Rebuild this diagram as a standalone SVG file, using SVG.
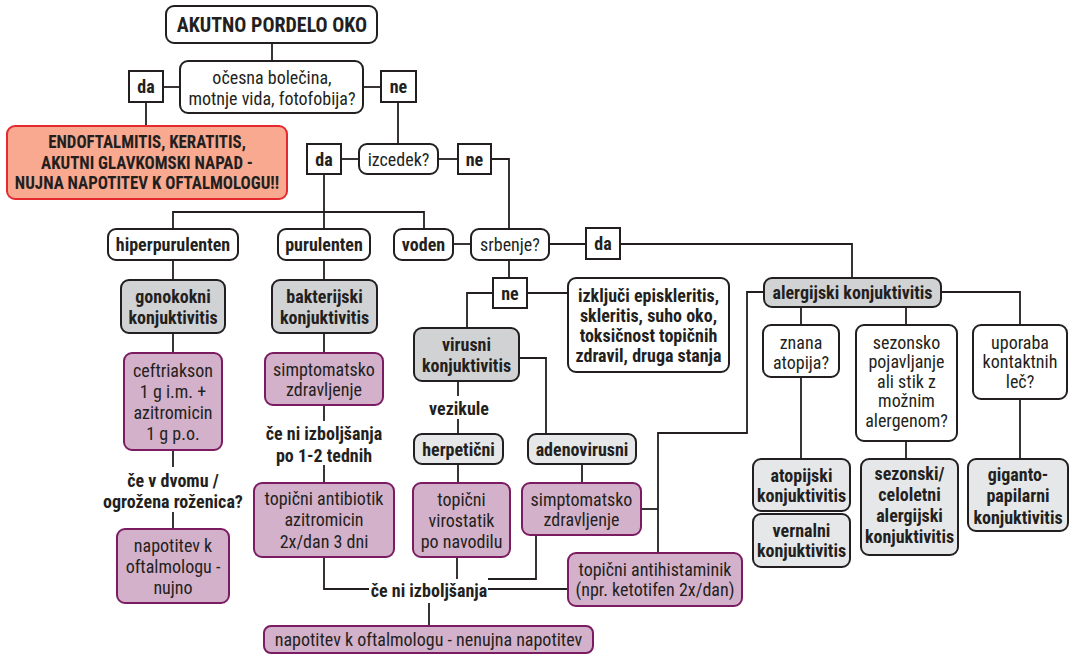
<svg xmlns="http://www.w3.org/2000/svg" width="1071" height="654" viewBox="0 0 1071 654">
<style>
text{font-family:"Liberation Sans Narrow","Roboto Condensed","DejaVu Sans Condensed","Liberation Sans",sans-serif;font-stretch:condensed;font-size:18px;fill:#231f20;text-anchor:middle}
.b{font-weight:bold}
.rt{transform-box:fill-box;transform-origin:center;transform:scaleX(0.94)}
.w{fill:#fff;stroke:#231f20;stroke-width:2}
.g{fill:#d1d2d4;stroke:#231f20;stroke-width:2}
.l{fill:#e6e7e8;stroke:#231f20;stroke-width:2}
.p{fill:#d4b1ca;stroke:#7b1c62;stroke-width:2}
.r{fill:#f8a98f;stroke:#e42a2f;stroke-width:2}
.c path{fill:none;stroke:#231f20;stroke-width:1.8}
</style>
<rect width="1071" height="654" fill="#fff"/>
<g class="c" id="connectors">
<path d="M272,43V61"/>
<path d="M163,87H180"/><path d="M363,87H381"/>
<path d="M146,102V126"/>
<path d="M398,102V144"/>
<path d="M341,159H359"/><path d="M438,159H458"/>
<path d="M491,159H509V229"/>
<path d="M324,174V212"/><path d="M173,229V212H424V229"/><path d="M324,212V229"/>
<path d="M453,244H471"/><path d="M549,244H586"/>
<path d="M509,260V278"/>
<path d="M493,293H467V328"/><path d="M527,293H568"/>
<path d="M173,260V280"/><path d="M324,260V280"/>
<path d="M173,333V353"/><path d="M324,333V353"/>
<path d="M173,450V467"/><path d="M173,512V529"/>
<path d="M324,405V421"/><path d="M324,465V483"/>
<path d="M458,381V396"/><path d="M458,419V434"/>
<path d="M519,358H546V434"/>
<path d="M458,464V483"/><path d="M582,464V483"/>
<path d="M324,557V589H369"/>
<path d="M457,557V579"/>
<path d="M488,579H536V535"/>
<path d="M488,589H568"/>
<path d="M429,603V626"/>
<path d="M620,244H852V278"/>
<path d="M764,292H747V433H658V553"/><path d="M641,509H658"/>
<path d="M941,292H1020V325"/>
<path d="M801,307V325"/><path d="M906,307V325"/>
<path d="M801,377V459"/><path d="M906,441V459"/><path d="M1020,399V459"/>
</g>
<g id="title"><rect class="w" x="166" y="6" width="211" height="37" rx="8"/><text class="b" x="272" y="32" style="font-size:20px">AKUTNO PORDELO OKO</text></g>
<g id="q1"><rect class="w" x="180" y="61" width="183" height="52" rx="8"/><text x="272" y="83.5">očesna bolečina,</text><text x="272" y="104.5">motnje vida, fotofobija?</text></g>
<g id="da1"><rect class="w" x="129" y="71" width="34" height="31"/><text class="b" x="146" y="93">da</text></g>
<g id="ne1"><rect class="w" x="381" y="71" width="35" height="31"/><text class="b" x="398.5" y="93">ne</text></g>
<g id="urgent"><rect class="r" x="7" y="126" width="280" height="73" rx="8"/><text class="b rt" x="147" y="148.5">ENDOFTALMITIS, KERATITIS,</text><text class="b rt" x="147" y="169">AKUTNI GLAVKOMSKI NAPAD -</text><text class="b rt" x="147" y="189.5">NUJNA NAPOTITEV K OFTALMOLOGU!!</text></g>
<g id="da2"><rect class="w" x="307" y="144" width="34" height="30"/><text class="b" x="324" y="165.5">da</text></g>
<g id="izcedek"><rect class="w" x="359" y="144" width="79" height="30" rx="8"/><text x="398.5" y="165.5">izcedek?</text></g>
<g id="ne2"><rect class="w" x="458" y="144" width="33" height="30"/><text class="b" x="474.5" y="165.5">ne</text></g>
<g id="hiper"><rect class="w" x="108" y="229" width="130" height="31" rx="8"/><text class="b" x="173" y="251">hiperpurulenten</text></g>
<g id="purulenten"><rect class="w" x="278" y="229" width="92" height="31" rx="8"/><text class="b" x="324" y="251">purulenten</text></g>
<g id="voden"><rect class="w" x="394" y="229" width="59" height="31" rx="8"/><text class="b" x="423.5" y="251">voden</text></g>
<g id="srbenje"><rect class="w" x="471" y="229" width="78" height="31" rx="8"/><text x="510" y="251">srbenje?</text></g>
<g id="da3"><rect class="w" x="586" y="228" width="34" height="31"/><text class="b" x="603" y="250">da</text></g>
<g id="ne3"><rect class="w" x="493" y="278" width="34" height="30"/><text class="b" x="510" y="299.5">ne</text></g>
<g id="izkljuci"><rect class="w" x="568" y="278" width="161" height="94" rx="8"/><text class="b" x="648.5" y="301.5">izključi episkleritis,</text><text class="b" x="648.5" y="321.5">skleritis, suho oko,</text><text class="b" x="648.5" y="341.5">toksičnost topičnih</text><text class="b" x="648.5" y="361.5">zdravil, druga stanja</text></g>
<g id="alergijski"><rect class="g" x="764" y="278" width="177" height="29" rx="8"/><text class="b" x="852.5" y="299">alergijski konjuktivitis</text></g>
<g id="gonokokni"><rect class="g" x="121" y="280" width="104" height="53" rx="8"/><text class="b" x="173" y="302.5">gonokokni</text><text class="b" x="173" y="323.5">konjuktivitis</text></g>
<g id="bakterijski"><rect class="g" x="272" y="280" width="105" height="53" rx="8"/><text class="b" x="324.5" y="302.5">bakterijski</text><text class="b" x="324.5" y="323.5">konjuktivitis</text></g>
<g id="virusni"><rect class="g" x="414" y="328" width="105" height="53" rx="8"/><text class="b" x="466.5" y="351">virusni</text><text class="b" x="466.5" y="371.5">konjuktivitis</text></g>
<g id="ceftriakson"><rect class="p" x="124" y="353" width="98" height="97" rx="8"/><text x="173" y="376.5">ceftriakson</text><text x="173" y="397.5">1 g i.m. +</text><text x="173" y="418.5">azitromicin</text><text x="173" y="439.5">1 g p.o.</text></g>
<g id="simpt1"><rect class="p" x="265" y="353" width="118" height="52" rx="8"/><text x="324" y="375.5">simptomatsko</text><text x="324" y="396">zdravljenje</text></g>
<g id="cenib1"><text class="b" x="324" y="439.5">če ni izboljšanja</text><text class="b" x="324" y="461.5">po 1-2 tednih</text></g>
<g id="dvomu"><text class="b" x="173" y="486.5">če v dvomu /</text><text class="b" x="173" y="507.5">ogrožena roženica?</text></g>
<g id="nujno"><rect class="p" x="117" y="529" width="112" height="74" rx="8"/><text x="173" y="551.5">napotitev k</text><text x="173" y="572.5">oftalmologu -</text><text x="173" y="593.5">nujno</text></g>
<g id="antibiotik"><rect class="p" x="254" y="483" width="140" height="74" rx="8"/><text x="324" y="504.5">topični antibiotik</text><text x="324" y="526">azitromicin</text><text x="324" y="547.5">2x/dan 3 dni</text></g>
<g id="vezikule"><text class="b" x="459" y="414.5">vezikule</text></g>
<g id="herpeticni"><rect class="l" x="414" y="434" width="89" height="30" rx="8"/><text class="b" x="458.5" y="455.5">herpetični</text></g>
<g id="adenovirusni"><rect class="l" x="528" y="434" width="108" height="30" rx="8"/><text class="b" x="582" y="455.5">adenovirusni</text></g>
<g id="virostatik"><rect class="p" x="413" y="483" width="97" height="74" rx="8"/><text x="461.5" y="505.5">topični</text><text x="461.5" y="526.5">virostatik</text><text x="461.5" y="548">po navodilu</text></g>
<g id="simpt2"><rect class="p" x="522" y="483" width="119" height="52" rx="8"/><text x="581.5" y="505.5">simptomatsko</text><text x="581.5" y="526">zdravljenje</text></g>
<g id="antihist"><rect class="p" x="568" y="553" width="174" height="53" rx="8"/><text x="655" y="575.5">topični antihistaminik</text><text x="655" y="596">(npr. ketotifen 2x/dan)</text></g>
<g id="cenib2"><text class="b" x="429" y="596.5">če ni izboljšanja</text></g>
<g id="nenujna"><rect class="p" x="264" y="626" width="329" height="27" rx="7"/><text x="428.5" y="646">napotitev k oftalmologu - nenujna napotitev</text></g>
<g id="znana"><rect class="w" x="763" y="325" width="76" height="52" rx="8"/><text x="801" y="348.5">znana</text><text x="801" y="368.5">atopija?</text></g>
<g id="sezonsko"><rect class="w" x="856" y="325" width="101" height="116" rx="8"/><text x="906.5" y="348.5">sezonsko</text><text x="906.5" y="368">pojavljanje</text><text x="906.5" y="387.5">ali stik z</text><text x="906.5" y="407">možnim</text><text x="906.5" y="426.5">alergenom?</text></g>
<g id="uporaba"><rect class="w" x="973" y="325" width="94" height="74" rx="8"/><text x="1020" y="348.5">uporaba</text><text x="1020" y="368">kontaktnih</text><text x="1020" y="387.5">leč?</text></g>
<g id="atopijski"><rect class="l" x="753" y="459" width="97" height="52" rx="8"/><text class="b" x="801.5" y="481.5">atopijski</text><text class="b" x="801.5" y="501.5">konjuktivitis</text></g>
<g id="vernalni"><rect class="l" x="753" y="514" width="97" height="53" rx="8"/><text class="b" x="801.5" y="536.5">vernalni</text><text class="b" x="801.5" y="556.5">konjuktivitis</text></g>
<g id="sezonski"><rect class="l" x="861" y="459" width="97" height="96" rx="8"/><text class="b" x="909.5" y="479.5">sezonski/</text><text class="b" x="909.5" y="501">celoletni</text><text class="b" x="909.5" y="522">alergijski</text><text class="b" x="909.5" y="543">konjuktivitis</text></g>
<g id="giganto"><rect class="l" x="968" y="459" width="100" height="72" rx="8"/><text class="b" x="1018" y="480.5">giganto-</text><text class="b" x="1018" y="502">papilarni</text><text class="b" x="1018" y="523.5">konjuktivitis</text></g>
</svg>
